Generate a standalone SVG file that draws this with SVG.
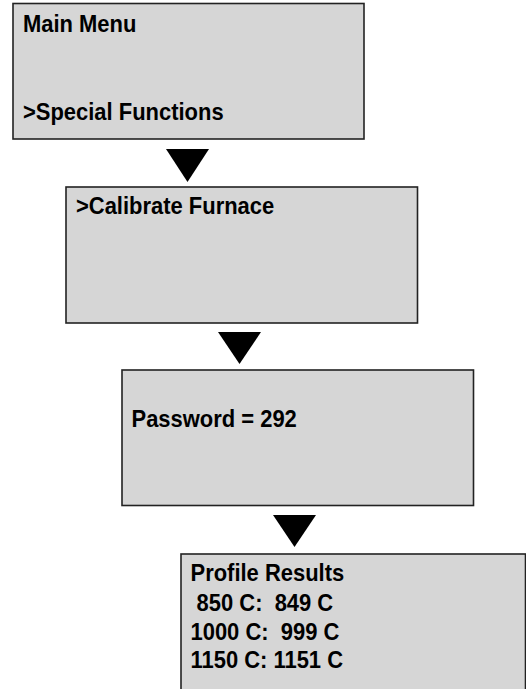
<svg xmlns="http://www.w3.org/2000/svg" width="526" height="689" viewBox="0 0 526 689">
<style>
.box{fill:#d6d6d6;stroke:#222;stroke-width:1.6}
.t{font-family:"Liberation Sans",Arial,sans-serif;font-weight:bold;font-size:23px;fill:#000;white-space:pre}
.arr{fill:#000}
</style>
<rect width="526" height="689" fill="#fff"/>
<g id="connectors">
<polygon class="arr" points="166,149 209,149 187.5,182"/>
<polygon class="arr" points="218,332 261,332 239.5,364"/>
<polygon class="arr" points="273,515 316,515 294.5,547"/>
</g>
<g id="main-menu">
<rect class="box" x="13" y="3.5" width="351" height="135.5"/>
<text class="t" transform="translate(23,32) scale(0.955,1)">Main Menu</text>
<text class="t" transform="translate(23,120) scale(0.955,1)">&gt;Special Functions</text>
</g>
<g id="calibrate-furnace">
<rect class="box" x="66" y="187" width="351.5" height="136"/>
<text class="t" transform="translate(76,214) scale(0.955,1)">&gt;Calibrate Furnace</text>
</g>
<g id="password">
<rect class="box" x="122" y="370" width="351.5" height="135.5"/>
<text class="t" transform="translate(131.5,427) scale(0.955,1)">Password = 292</text>
</g>
<g id="profile-results">
<rect class="box" x="181" y="554" width="344.5" height="150"/>
<text class="t" transform="translate(190.5,581) scale(0.955,1)">Profile Results</text>
<text class="t" transform="translate(190.5,611) scale(0.955,1)" xml:space="preserve"> 850 C:  849 C</text>
<text class="t" transform="translate(190.5,640) scale(0.955,1)" xml:space="preserve">1000 C:  999 C</text>
<text class="t" transform="translate(190.5,668) scale(0.955,1)">1150 C: 1151 C</text>
</g>
</svg>
